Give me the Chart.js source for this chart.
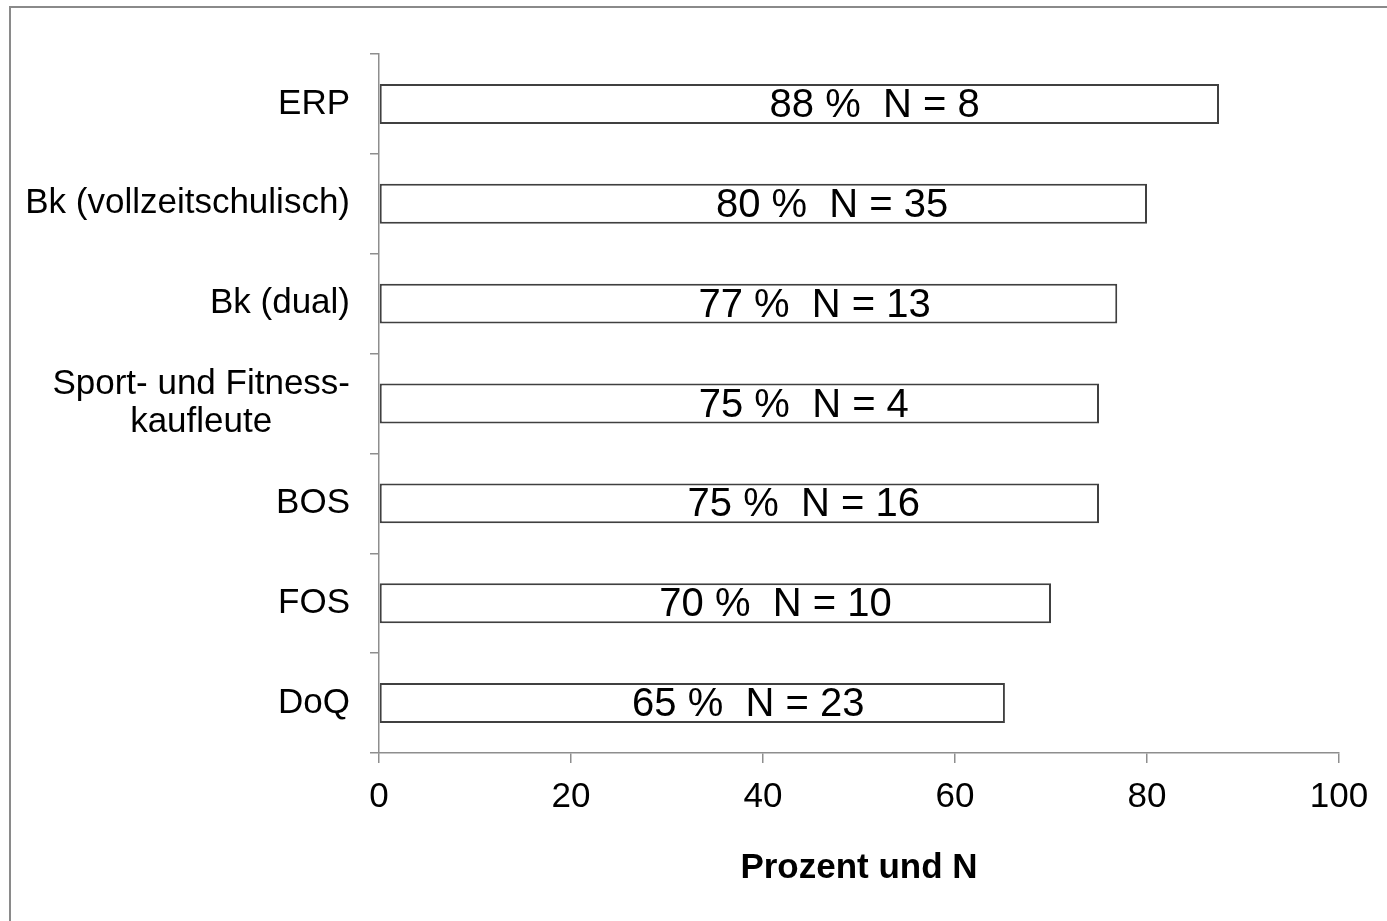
<!DOCTYPE html>
<html>
<head>
<meta charset="utf-8">
<script src="https://cdn.jsdelivr.net/npm/chart.js@4/dist/chart.umd.min.js"></script>
<style>
  html, body { margin: 0; padding: 0; background: #fff; overflow: hidden; }
  #frame { position: absolute; left: 9px; top: 6px; width: 2000px; height: 2000px; border-left: 2px solid #8a8a8a; border-top: 2px solid #8a8a8a; }
  #c { position: absolute; left: 0; top: 0; }
</style>
</head>
<body>
<div id="frame"></div>
<canvas id="c" width="1387" height="921"></canvas>
<script>
const categories = ['ERP', 'Bk (vollzeitschulisch)', 'Bk (dual)', ['Sport- und Fitness-', 'kaufleute        '], 'BOS', 'FOS', 'DoQ'];
const shares = [87.5, 80, 76.9, 75, 75, 70, 65.2];
const percentLabels = [88, 80, 77, 75, 75, 70, 65];
const counts = [8, 35, 13, 4, 16, 10, 23];
const xTicks = [0, 20, 40, 60, 80, 100];

const FONT = "'Liberation Sans', Arial, sans-serif";
const AXIS = '#8e8e8e';

const labelPlugin = {
  id: 'barLabels',
  afterDatasetsDraw(chart) {
    const ctx = chart.ctx;
    const xs = chart.scales.x;
    const meta = chart.getDatasetMeta(0);
    ctx.save();
    ctx.font = "40px " + FONT;
    ctx.fillStyle = '#000';
    ctx.textAlign = 'center';
    ctx.textBaseline = 'middle';
    meta.data.forEach((bar, i) => {
      const x = xs.getPixelForValue(shares[i] * 0.59);
      ctx.fillText(percentLabels[i] + ' %  N = ' + counts[i], x, bar.y + 2);
    });
    ctx.restore();
  }
};

new Chart(document.getElementById('c'), {
  type: 'bar',
  data: {
    labels: categories,
    datasets: [{
      data: shares,
      backgroundColor: '#ffffff',
      borderColor: '#404040',
      borderWidth: 2,
      borderSkipped: false,
      barPercentage: 0.4,
      categoryPercentage: 1.0
    }]
  },
  options: {
    indexAxis: 'y',
    responsive: false,
    animation: false,
    layout: { padding: { top: 54, left: 0, right: 48, bottom: 0 } },
    plugins: { legend: { display: false }, tooltip: { enabled: false } },
    scales: {
      x: {
        min: 0, max: 100,
        afterBuildTicks(s) { s.ticks = xTicks.map(v => ({ value: v })); },
        ticks: { font: { size: 35, family: FONT }, color: '#000', padding: 13, maxRotation: 0 },
        grid: { drawOnChartArea: false, tickLength: 10, color: AXIS, lineWidth: 1.5 },
        border: { color: AXIS, width: 1.5 },
        title: { display: true, text: 'Prozent und N', color: '#000',
                 font: { size: 35, weight: 'bold', family: FONT }, padding: { top: 32, bottom: 32 } },
        afterFit(s) { s.height = 168; }
      },
      y: {
        ticks: { font: { size: 35, family: FONT, lineHeight: 1.1 }, color: '#000', padding: 20 },
        grid: { drawOnChartArea: false, tickLength: 9, color: AXIS, lineWidth: 1.5, offset: true },
        border: { color: AXIS, width: 1.5 },
        afterFit(s) { s.width = 379; }
      }
    }
  },
  plugins: [labelPlugin]
});
</script>
</body>
</html>
